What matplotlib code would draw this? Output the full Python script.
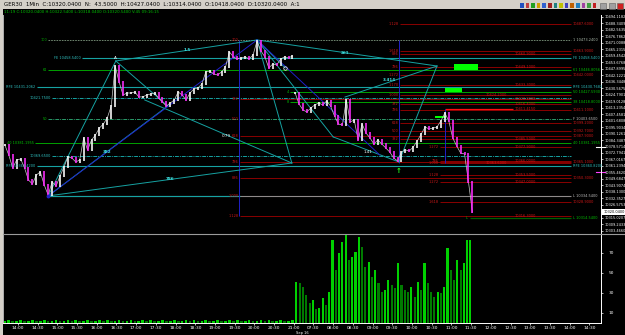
import matplotlib.pyplot as plt
from matplotlib import font_manager
from matplotlib.lines import Line2D
from matplotlib.patches import Rectangle
from matplotlib.transforms import blended_transform_factory

W, H = 625, 335

# GER30 1 minute closes (bar 0 = 14:00, 450 = 07:30 next day)
day1_bar = list(range(-20, 419, 6))
day1_close = [10379.9, 10371.0, 10359.5, 10366.6, 10367.5, 10359.5, 10348.8, 10345.2, 10353.2, 10355.9,
              10344.3, 10335.4, 10347.0, 10343.4, 10352.3, 10360.3, 10369.3, 10368.4, 10364.8, 10366.6,
              10386.2, 10375.5, 10384.4, 10388.8, 10395.0, 10398.6, 10404.0, 10414.6, 10450.2, 10436.0,
              10424.4, 10426.2, 10426.2, 10427.1, 10422.7, 10422.7, 10424.4, 10425.3, 10426.2, 10421.8,
              10418.2, 10414.6, 10417.3, 10420.0, 10427.1, 10424.4, 10420.0, 10426.2, 10429.8, 10430.7,
              10434.2, 10444.9, 10445.8, 10443.1, 10442.2, 10444.9, 10449.4, 10462.7, 10458.3, 10456.5,
              10457.4, 10458.3, 10456.5, 10460.0, 10472.5, 10463.6, 10458.3, 10448.5, 10452.0, 10451.1,
              10456.5, 10458.3, 10457.4, 10459.1]
day2_bar = list(range(422, 693, 6))
day2_close = [10426.2, 10416.4, 10411.1, 10409.3, 10412.9, 10415.6, 10417.3, 10415.6, 10419.1, 10414.6,
              10405.7, 10398.6, 10397.7, 10420.0, 10400.4, 10402.2, 10384.4, 10398.6, 10390.6, 10386.2,
              10380.8, 10384.4, 10380.8, 10377.3, 10373.7, 10368.4, 10365.7, 10373.7, 10375.5, 10374.6,
              10378.2, 10383.5, 10389.7, 10395.9, 10394.2, 10395.0, 10395.9, 10401.3, 10408.4, 10401.3,
              10386.2, 10379.1, 10372.8, 10371.9, 10347.0, 10320.0]
last_price = 10320.04

# tick volume
vol1_bar = list(range(-20, 419, 6))
vol1 = [2, 3, 2, 2, 3, 2, 2, 3, 2, 2,
        3, 2, 2, 3, 2, 2, 3, 2, 3, 2,
        2, 3, 2, 2, 3, 2, 3, 2, 2, 3,
        2, 2, 3, 2, 2, 3, 2, 3, 2, 2,
        3, 2, 2, 3, 2, 2, 3, 2, 3, 2,
        2, 3, 2, 2, 3, 2, 2, 3, 2, 3,
        2, 2, 3, 2, 2, 3, 2, 3, 2, 2,
        3, 2, 2, 3]
vol2_bar = list(range(424, 690, 5))
vol2 = [41, 40, 36, 28, 20, 23, 14, 15, 25, 18,
        31, 83, 53, 70, 81, 90, 63, 66, 71, 86,
        76, 56, 61, 46, 53, 40, 31, 33, 43, 38,
        35, 60, 38, 33, 31, 36, 26, 41, 33, 60,
        40, 31, 26, 31, 30, 36, 75, 53, 43, 63,
        53, 60, 83, 83]

time_tick_bar = list(range(0, 871, 30))
time_labels = ['14:00', '14:30', '15:00', '15:30', '16:00', '16:30', '17:00', '17:30',
               '18:00', '18:30', '19:00', '19:30', '20:00', '20:30', '21:00',
               '07:30', '08:00', '08:30', '09:00', '09:30', '10:00', '10:30', '11:00',
               '11:30', '12:00', '12:30', '13:00', '13:30', '14:00', '14:30']
price_top, price_step = 10494.1182, 5.77734
vol_ticks = [10, 30, 50, 70]

# horizontal levels from the fibo / harmonic tools
teal_price = [10456.9, 10431.3, 10361.2]
teal_start = [97, 29, 29]
teal_left = ['FE 10458.5400', 'RFE 10431.2062', 'RFE 10361.4200']
teal_right = ['FE 10458.5400', 'RFE 10430.7682', 'RFE 10360.8200']

teal_dd_price = [10421.8, 10370.1]
teal_dd_start = [52, 52]
teal_dd_left = ['10421.7500', '10369.6500']

green_price = [10446.5, 10381.4, 10427.0, 10418.0]
green_start = [46, 26, 414, 414]
green_left = ['61', '40 10381.1955', '4', '8']
green_right = ['61 10446.8056', '40 10381.1955', '50 10427.5930', '38 10418.8000']

level_50, level_50_start = 10403.3, 46
level_100, level_100_start = 10473.4, 46
level_x, level_x_start = 10334.8, 46
level_low, level_low_start = 10315.0, 688

red_price = [10420.9, 10387.9, 10365.1, 10350.3, 10316.3,
             10487.6, 10463.9, 10460.9, 10449.1, 10442.0, 10433.3, 10424.2, 10416.4,
             10411.1, 10399.2, 10392.7, 10385.5,
             10377.9, 10366.0, 10363.6, 10353.5, 10347.0, 10328.9]
red_start = [338, 338, 338, 338, 338,
             582, 582, 582, 582, 582, 582, 582, 582,
             582, 582, 582, 582,
             643, 643, 643, 643, 643, 643]
red_tag = ['382', '618', '786', '886', '1.128',
           '1.128', '1.618', '886', '786', '1.272', '1.170', '1.000', '382',
           '786', '618', '500', '382',
           '1.272', '786', '1.000', '1.128', '1.272', '1.618']
red_extra_price = [10473.4, 10403.3, 10334.8]
red_extra_tag = ['100', '500', '1.000']
target_price, target_start, target_end = 10412.2, 650, 754

# highlighted zones (bar from, bar to, price low, price high)
zone_bar0 = [664, 650, 635]
zone_bar1 = [700, 676, 652]
zone_lo = [10446.3, 10426.8, 10404.0]
zone_hi = [10451.8, 10430.7, 10405.7]

vline_bar = [336, 580, 650]
vline_top = [10473.4, 10473.4, 10412.2]
vline_bottom = [10316.3, 10363.6, 10363.6]

# harmonic pattern pivots (bar, price)
pivots = {'X': (46, 10334.6), 'A': (149, 10454.7), 'B': (228, 10414.6), 'C': (364, 10473.4),
          'D': (417, 10363.9), 'P': (193, 10420.0), 'O': (407, 10448.5), 'N': (498, 10422.6),
          'W': (480, 10387.1), 'E': (638, 10450.2), 'F': (580, 10364.8), 'G': (551, 10371.0)}
teal_legs = ['XA', 'AB', 'XB', 'AC', 'CD', 'XD', 'PD', 'CE', 'NE', 'EF', 'CW', 'WF', 'CO']
blue_legs = ['XC', 'CG']
cyan_tag = ['1.5', '261', '3.414', '786', '382']
cyan_tag_bar = [257, 498, 566, 231, 135]
cyan_tag_price = [10464.5, 10461.8, 10437.8, 10349.7, 10373.7]
white_tag = ['0.79', '1.41', 'A']
white_tag_bar = [318, 533, 148]
white_tag_price = [10387.9, 10373.7, 10457.4]

header = ('GER30  1Min  C:10320.0400  N:  43.5000  H:10427.0400  L:10314.0400  '
          'O:10418.0400  D:10320.0400  A:1')
info = '11:19 C:10320.0400 H:10322.5400 L:10318.0400 O:10320.5400 V:45 09:16:15'

names = {f.name for f in font_manager.fontManager.ttflist}
narrow = 'Liberation Sans Narrow' if 'Liberation Sans Narrow' in names else 'DejaVu Sans'

TEAL = '#16a2a2'
GREEN = '#00a000'
RED = '#8a0000'
RED_TXT = '#d01818'
BLUE = '#2020c8'
LINE_END = 842
LABEL_COLUMNS = [845, 757, 712]

fig = plt.figure(figsize=(W / 100, H / 100), dpi=100)
fig.patch.set_facecolor('#d4d0c8')


def px_rect(left, top, right, bottom):
    return [left / W, 1 - bottom / H, (right - left) / W, (bottom - top) / H]


fig.add_artist(Rectangle((3 / W, 0), (W - 3) / W, (H - 9) / H, transform=fig.transFigure,
                         facecolor='black', edgecolor='none', zorder=-5))
fig.text(4 / W, 1 - 4.7 / H, header, fontsize=4, family=narrow, color='black', va='center')
fig.text(4 / W, 1 - 12 / H, info, fontsize=2.8, family=narrow, color='#00c000', va='center')
# toolbar glyphs and window buttons
icon_colors = ['#2050c0', '#c04040', '#20a020', '#d0a000', '#3060d0', '#a02020', '#208080',
               '#c0c000', '#4040c0', '#c06000', '#2080c0', '#a040a0', '#40a040', '#c02020']
for k, c in enumerate(icon_colors):
    fig.add_artist(Rectangle(((520 + 5.6 * k) / W, 1 - 8 / H), 3.6 / W, 5 / H,
                             transform=fig.transFigure, facecolor=c, edgecolor='none'))
for k, c in enumerate(['#a0a0a0', '#a0a0a0', '#d02020']):
    fig.add_artist(Rectangle(((600 + 8.5 * k) / W, 1 - 8.5 / H), 6 / W, 6 / H,
                             transform=fig.transFigure, facecolor=c, edgecolor='#606060', lw=0.4))

ax = fig.add_axes(px_rect(3, 15, 601, 233))
axv = fig.add_axes(px_rect(3, 234, 601, 323), sharex=ax)
for a in (ax, axv):
    a.set_facecolor('black')
    a.spines['top'].set_visible(False)
    a.spines['bottom'].set_visible(False)
    a.spines['left'].set_color('#b0b0b0')
    a.spines['right'].set_color('white')
    for sp in a.spines.values():
        sp.set_linewidth(0.7)
axv.spines['bottom'].set_visible(True)
axv.spines['bottom'].set_color('white')

ax.set_xlim(-22.8, 887.8)
ax.set_ylim(10301.6, 10495.6)
axv.set_ylim(0, 89)

price_ticks = [price_top - k * price_step for k in range(34)]
ax.yaxis.tick_right()
ax.set_yticks(price_ticks)
ax.set_yticklabels([f'{v:.4f}' for v in price_ticks], family=narrow)
ax.tick_params(axis='y', colors='white', labelsize=2.55, length=1.5, width=0.5, pad=0.8)
ax.tick_params(axis='x', bottom=False, labelbottom=False)

axv.yaxis.tick_right()
axv.set_yticks(vol_ticks)
axv.set_yticklabels([str(v) for v in vol_ticks], family=narrow)
axv.tick_params(axis='y', colors='white', labelsize=3.1, length=1.5, width=0.5, pad=4)
axv.set_xticks(time_tick_bar)
axv.set_xticklabels(time_labels, family=narrow)
axv.tick_params(axis='x', colors='white', labelsize=3.2, length=1.5, width=0.5, pad=0.6)
fig.text(302 / W, 1 - 333 / H, 'Sep 16', fontsize=2.6, family=narrow, color='white',
         ha='center', va='center')

fs = 2.5
txt = dict(fontsize=fs, family=narrow, va='center', zorder=6)
taken = {col: [] for col in LABEL_COLUMNS}
taken[LABEL_COLUMNS[1]].append(target_price)


def side_label(price, text, color):
    # price tag near the end of a level; step left when the slot is already used
    for col in LABEL_COLUMNS:
        if all(abs(price - q) > 3.6 for q in taken[col]):
            taken[col].append(price)
            ax.text(col, price, text, color=color, ha='left', **txt)
            return
    ax.text(LABEL_COLUMNS[-1] - 45, price, text, color=color, ha='left', **txt)


# horizontal levels
ax.hlines(level_100, level_100_start, LINE_END, colors='#7f9a7f', linestyles=(0, (2, 1.2)), lw=0.6)
ax.text(level_100_start - 2, level_100, '100', color=GREEN, ha='right', **txt)
side_label(level_100, '1 10473.2400', '#b0c0b0')

ax.hlines(teal_price, teal_start, LINE_END, colors=TEAL, lw=0.8)
for p, s, l, r in zip(teal_price, teal_start, teal_left, teal_right):
    ax.text(s - 2, p, l, color='#30c0c0', ha='right', **txt)
    side_label(p, r, '#30c0c0')

ax.hlines(teal_dd_price, teal_dd_start, LINE_END, colors=TEAL, linestyles=(0, (4, 1, 1, 1)), lw=0.7)
for p, s, l in zip(teal_dd_price, teal_dd_start, teal_dd_left):
    ax.text(s - 2, p, l, color='#30c0c0', ha='right', **txt)

ax.hlines(green_price, green_start, LINE_END, colors=GREEN, lw=0.7)
for p, s, l, r in zip(green_price, green_start, green_left, green_right):
    ax.text(s - 2, p, l, color='#00c000', ha='right', **txt)
    side_label(p, r, '#00c000')

ax.hlines(level_50, level_50_start, LINE_END, colors='#2a9a6a', linestyles=(0, (4, 1, 1, 1)), lw=0.7)
ax.text(level_50_start - 2, level_50, '50', color='#00c000', ha='right', **txt)
side_label(level_50, 'F 10403.6500', '#c0c0c0')

ax.hlines(level_x, level_x_start, LINE_END, colors='#8e8a8a', lw=0.8)
ax.hlines(level_x, level_x_start, red_start[0], colors=TEAL, lw=0.8)
side_label(level_x, 'L 10334.5400', '#c0c0c0')

ax.hlines(level_low, level_low_start, LINE_END, colors='#006000', lw=0.9)
ax.text(level_low_start - 3, level_low, 'L', color='#00c000', ha='right', **txt)
side_label(level_low, 'L 10314.5400', '#00c000')

ax.hlines(red_price, red_start, LINE_END, colors=RED, lw=0.7)
for p, s, t in zip(red_price, red_start, red_tag):
    ax.text(s - 2, p, t, color=RED_TXT, ha='right', **txt)
    side_label(p, f'{p:.4f}', RED_TXT)
for p, t in zip(red_extra_price, red_extra_tag):
    ax.text(red_start[0] - 2, p, t, color=RED_TXT, ha='right', **txt)
ax.hlines(target_price, target_start, target_end, colors='#ff1010', lw=0.9)
ax.text(target_end + 3, target_price, '10411.4150', color=RED_TXT, ha='left', **txt)

ax.vlines(vline_bar, vline_bottom, vline_top, colors=BLUE, lw=0.7)

for b0, b1, lo, hi in zip(zone_bar0, zone_bar1, zone_lo, zone_hi):
    ax.add_patch(Rectangle((b0, lo), b1 - b0, hi - lo, facecolor='#00ff00', edgecolor='none', zorder=4))

# harmonic pattern legs
for leg in teal_legs:
    (x0, y0), (x1, y1) = pivots[leg[0]], pivots[leg[1]]
    ax.plot([x0, x1], [y0, y1], color=TEAL, lw=0.7, zorder=3)
for leg in blue_legs:
    (x0, y0), (x1, y1) = pivots[leg[0]], pivots[leg[1]]
    ax.plot([x0, x1], [y0, y1], color=BLUE, lw=0.7, zorder=3)
for t, b, p in zip(cyan_tag, cyan_tag_bar, cyan_tag_price):
    ax.text(b, p, t, color='#40e0e0', ha='center', fontsize=3, family=narrow, va='center', zorder=6,
            fontweight='bold')
for t, b, p in zip(white_tag, white_tag_bar, white_tag_price):
    ax.text(b, p, t, color='white', ha='center', fontsize=3, family=narrow, va='center', zorder=6)
ax.plot(*pivots['O'], marker='o', ms=2.5, mfc='none', mec='white', mew=0.5, zorder=6)
ax.plot(pivots['X'][0], pivots['X'][1], marker='o', ms=1.8, mfc=BLUE, mec=BLUE, zorder=6)
ax.text(pivots['F'][0], pivots['F'][1] - 8, '\u2191', color='#20ff20', fontsize=5,
        ha='center', va='center', fontweight='bold', zorder=6)

# candles: body from previous close to close, white up / magenta down
for bars, closes in ((day1_bar, day1_close), (day2_bar, day2_close)):
    opens = [closes[0]] + closes[:-1]
    ax.plot(bars, closes, color='#c8c8c8', lw=0.5, zorder=4)
    lo = [min(o, c) - 0.6 for o, c in zip(opens, closes)]
    hi = [max(o, c) + 0.6 for o, c in zip(opens, closes)]
    cols = ['white' if c >= o else '#ff2cff' for o, c in zip(opens, closes)]
    ax.vlines(bars, lo, hi, colors=cols, lw=1.15, zorder=5)

# right-edge markers and current price box
edge = blended_transform_factory(ax.transAxes, ax.transData)
ax.plot([0.992, 1.006], [10378.57, 10378.57], transform=edge, color='white', lw=0.8, clip_on=False)
ax.plot([0.992, 1.006], [10355.46, 10355.46], transform=edge, color='#ff40ff', lw=0.8, clip_on=False)
ax.text(1.004, last_price, f'{last_price:.4f}', transform=edge, fontsize=2.55, family=narrow,
        color='black', va='center', ha='left', zorder=10, clip_on=False,
        bbox=dict(boxstyle='square,pad=0.3', facecolor='white', edgecolor='none'))

# volume
for bars, vols, width in ((vol1_bar, vol1, 4.0), (vol2_bar, vol2, 3.2)):
    prev = [vols[0]] + vols[:-1]
    cols = ['#00d000' if v >= p else '#007a00' for v, p in zip(vols, prev)]
    axv.bar(bars, vols, width=width, color=cols, linewidth=0)

fig.add_artist(Line2D([3 / W, 1], [1 - 233.6 / H] * 2, transform=fig.transFigure,
                      color='#9a9a9a', lw=0.8))

fig.savefig('out.png', dpi=100, facecolor=fig.get_facecolor())
